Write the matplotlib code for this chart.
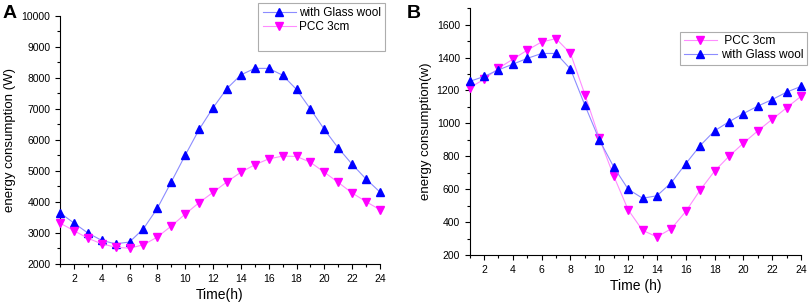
import matplotlib
matplotlib.use("Agg")
import matplotlib.pyplot as plt
from matplotlib.ticker import MultipleLocator
from matplotlib.lines import Line2D

plt.rcParams['font.family'] = ['Liberation Sans', 'DejaVu Sans']

hours = list(range(1, 25))

# Panel A
a_glass = [3650, 3320, 3000, 2760, 2650, 2710, 3140, 3800, 4650, 5510, 6340, 7040,
           7660, 8100, 8310, 8310, 8090, 7630, 7000, 6340, 5740, 5215, 4740, 4320]
a_pcc = [3320, 3075, 2830, 2650, 2540, 2510, 2620, 2870, 3225, 3610, 3980, 4310,
         4650, 4960, 5200, 5390, 5480, 5470, 5280, 4960, 4630, 4290, 4010, 3750]

# Panel B
b_pcc = [1216, 1268, 1335, 1390, 1445, 1495, 1515, 1425, 1175, 910, 680, 475,
         350, 310, 360, 465, 595, 710, 800, 880, 955, 1025, 1095, 1165]
b_glass = [1255, 1285, 1325, 1360, 1395, 1425, 1425, 1330, 1110, 900, 735, 600,
           545, 560, 640, 755, 865, 955, 1010, 1060, 1105, 1145, 1190, 1225]

BLUE_L, BLUE_M = '#8c8cff', '#0000ff'
MAG_L, MAG_M = '#ff8cff', '#ff00ff'

fig = plt.figure(figsize=(8.09, 3.04), dpi=100)

def style(ax):
    ax.spines['top'].set_visible(False)
    ax.spines['right'].set_visible(False)
    ax.tick_params(which='both', direction='out', labelsize=7.5, width=0.8)
    ax.tick_params(which='major', length=3.5)
    ax.tick_params(which='minor', length=2)
    ax.xaxis.set_major_locator(MultipleLocator(2))
    ax.xaxis.set_minor_locator(MultipleLocator(1))

axA = fig.add_axes([0.0742, 0.1316, 0.3955, 0.8158])
axA.plot(hours, a_glass, '-', color=BLUE_L, lw=0.8, marker='^', ms=5.8,
         mfc=BLUE_M, mec=BLUE_M, label='with Glass wool', clip_on=False, zorder=3)
axA.plot(hours, a_pcc, '-', color=MAG_L, lw=0.8, marker='v', ms=5.8,
         mfc=MAG_M, mec=MAG_M, label='PCC 3cm', clip_on=False, zorder=3)
axA.set_xlim(1, 24)
axA.set_ylim(2000, 10000)
axA.yaxis.set_major_locator(MultipleLocator(1000))
axA.yaxis.set_minor_locator(MultipleLocator(500))
style(axA)
axA.set_xlabel('Time(h)', fontsize=10, labelpad=3)
axA.set_ylabel('energy consumption (W)', fontsize=9.5, labelpad=4)
hA, lA = axA.get_legend_handles_labels()
hA.append(Line2D([], [], linestyle='none'))
lA.append(' ')
legA = axA.legend(hA, lA, loc='upper left', bbox_to_anchor=(0.62, 1.052), fontsize=8.5,
                  frameon=True, fancybox=False, edgecolor='#999999',
                  handlelength=2.8, borderpad=0.35, labelspacing=0.15,
                  handletextpad=0.3, borderaxespad=0)
legA.get_frame().set_linewidth(0.8)
fig.text(0.003, 0.985, 'A', fontsize=14, fontweight='bold', va='top', ha='left')

axB = fig.add_axes([0.5805, 0.1612, 0.4097, 0.8118])
axB.plot(hours, b_pcc, '-', color=MAG_L, lw=0.8, marker='v', ms=5.8,
         mfc=MAG_M, mec=MAG_M, label=' PCC 3cm', clip_on=False, zorder=3)
axB.plot(hours, b_glass, '-', color=BLUE_L, lw=0.8, marker='^', ms=5.8,
         mfc=BLUE_M, mec=BLUE_M, label='with Glass wool', clip_on=False, zorder=3)
axB.set_xlim(1, 24)
axB.set_ylim(200, 1700)
axB.yaxis.set_minor_locator(MultipleLocator(100))
style(axB)
axB.set_yticks([200, 400, 600, 800, 1000, 1200, 1400, 1600])
axB.set_xlabel('Time (h)', fontsize=10, labelpad=3)
axB.set_ylabel('energy consumption(w)', fontsize=9.5, labelpad=3)
legB = axB.legend(loc='upper left', bbox_to_anchor=(0.635, 0.905), fontsize=8.6,
                  frameon=True, fancybox=False, edgecolor='#999999',
                  handlelength=2.8, borderpad=0.3, labelspacing=0.15,
                  handletextpad=0.3, borderaxespad=0)
legB.get_frame().set_linewidth(0.8)
fig.text(0.503, 0.985, 'B', fontsize=14, fontweight='bold', va='top', ha='left')

fig.savefig('out.png', dpi=100)
